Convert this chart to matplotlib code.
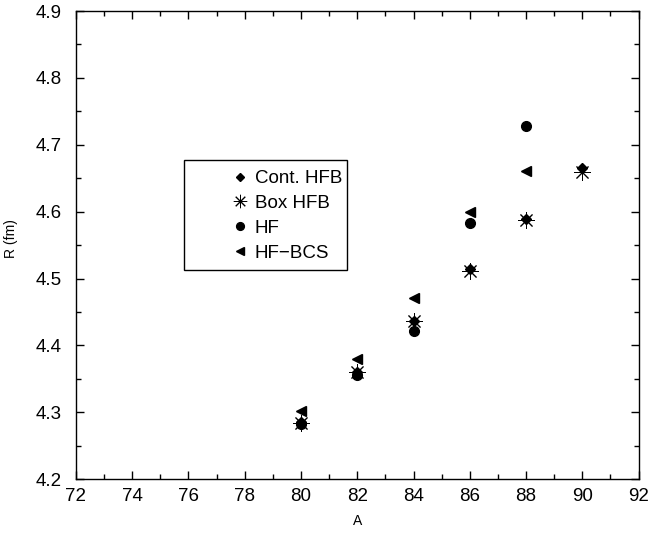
import matplotlib
matplotlib.use("Agg")
import matplotlib.pyplot as plt
from matplotlib.ticker import MultipleLocator, FormatStrFormatter
from matplotlib.patches import Rectangle

plt.rcParams['font.family'] = ['Liberation Sans', 'DejaVu Sans']

A_cont = [80, 82, 84, 86, 88, 90]
R_cont = [4.285, 4.361, 4.437, 4.514, 4.589, 4.665]
A_box = [80, 82, 84, 86, 88, 90]
R_box = [4.284, 4.360, 4.436, 4.512, 4.587, 4.660]
A_hf = [80, 82, 84, 86, 88]
R_hf = [4.282, 4.356, 4.422, 4.583, 4.728]
A_bcs = [80, 82, 84, 86, 88]
R_bcs = [4.302, 4.380, 4.471, 4.600, 4.661]

W, H = 649, 537
fig = plt.figure(figsize=(W / 100, H / 100), dpi=100)
ax = fig.add_axes([0.117, 0.1075, 0.867, 0.872])

ax.plot(A_cont, R_cont, linestyle='none', marker='D', ms=5, color='black', label='Cont. HFB', zorder=3)
ax.plot(A_box, R_box, linestyle='none', marker=(8, 2, 0), ms=12, mew=0.7, color='black', label='Box HFB', zorder=4)
ax.plot(A_hf, R_hf, linestyle='none', marker='o', ms=7, color='black', label='HF', zorder=2)
ax.plot(A_bcs, R_bcs, linestyle='none', marker='<', ms=7, color='black', label='HF\u2212BCS', zorder=2)

ax.set_xlim(72, 92)
ax.set_ylim(4.2, 4.9)
ax.xaxis.set_major_locator(MultipleLocator(2))
ax.xaxis.set_minor_locator(MultipleLocator(1))
ax.yaxis.set_major_locator(MultipleLocator(0.1))
ax.yaxis.set_minor_locator(MultipleLocator(0.05))
ax.yaxis.set_major_formatter(FormatStrFormatter('%.1f'))
ax.tick_params(which='both', direction='in', top=True, right=True, labelsize=13.5, width=1)
ax.tick_params(which='major', length=6)
ax.tick_params(which='minor', length=3.5)
ax.tick_params(axis='x', which='major', pad=6)
ax.tick_params(axis='y', which='major', pad=10)
for s in ax.spines.values():
    s.set_linewidth(1.0)

ax.set_xlabel('A', fontsize=10)
ax.set_ylabel('R (fm)', fontsize=10)
ax.xaxis.set_label_coords(0.5, -0.074)
ax.yaxis.set_label_coords(-0.103, 0.515)

# legend frame
x0, x1, y0, y1 = 184, 347, 160, 270
ax.add_patch(Rectangle(((x0) / W, 1 - y1 / H), (x1 - x0) / W, (y1 - y0) / H,
                       transform=fig.transFigure, fill=False, edgecolor='black',
                       linewidth=1.0, zorder=5))
leg = ax.legend(loc='upper left', bbox_to_anchor=(232.5 / W, 1 - 170 / H),
                bbox_transform=fig.transFigure, fontsize=13.5, frameon=False,
                handlelength=0.8, handletextpad=0.4, borderpad=0, borderaxespad=0,
                labelspacing=0.41, markerscale=0.8)

fig.savefig('out.png', dpi=100)
